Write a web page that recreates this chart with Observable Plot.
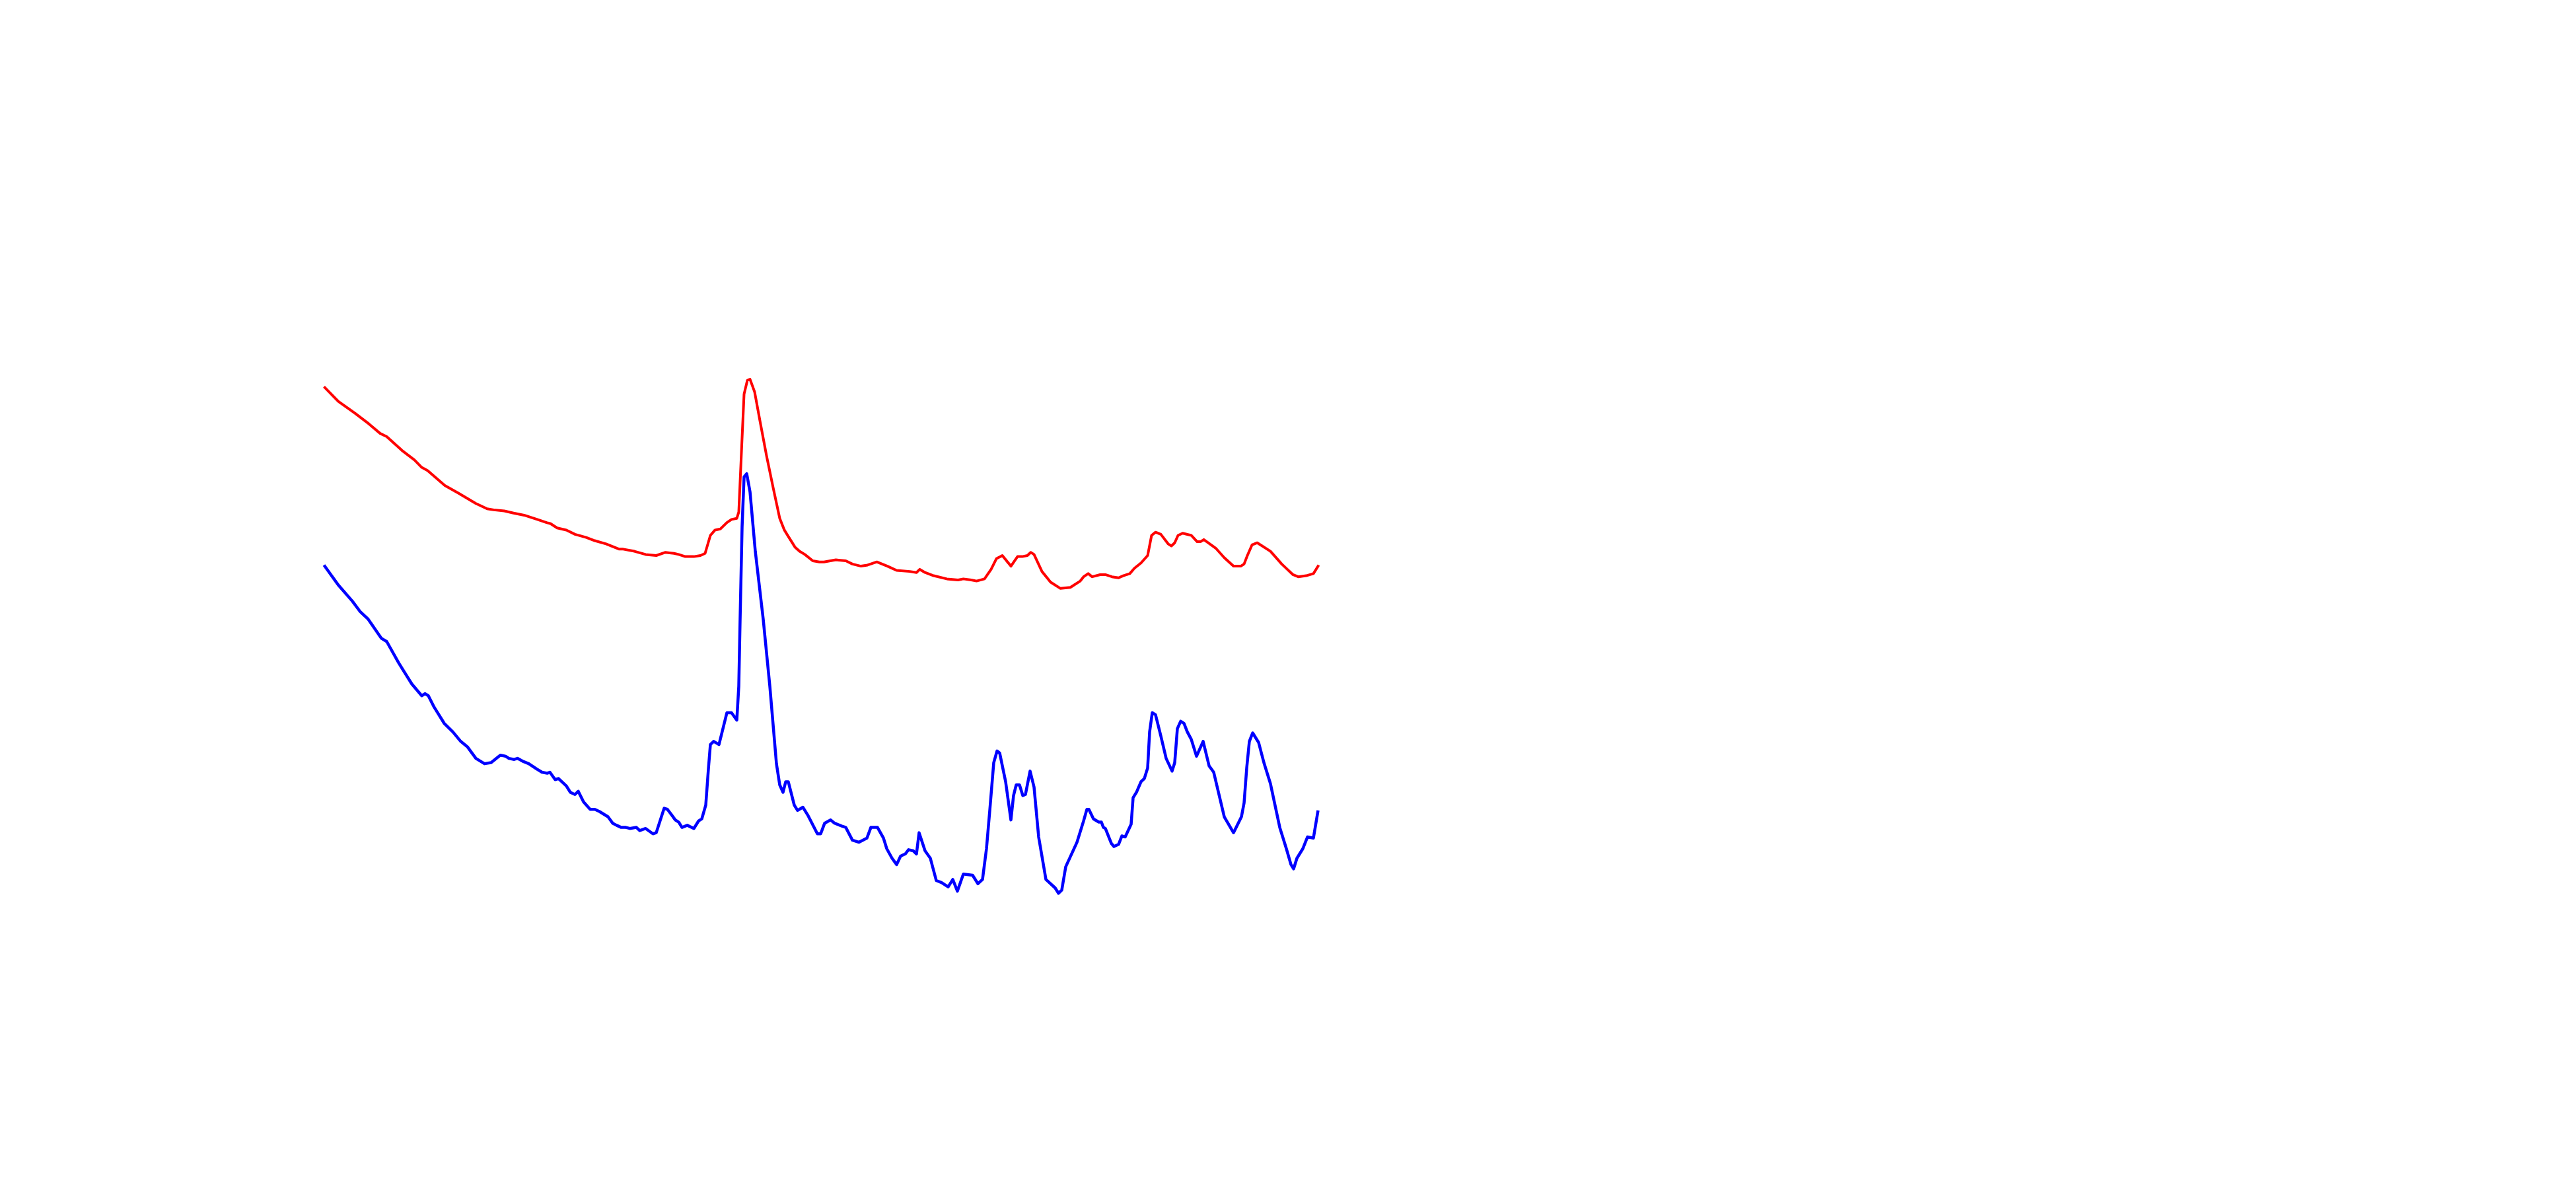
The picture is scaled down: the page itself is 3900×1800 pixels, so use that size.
<!DOCTYPE html>
<html>
<head>
<meta charset="utf-8">
<script src="https://cdn.jsdelivr.net/npm/d3@7"></script>
<script src="https://cdn.jsdelivr.net/npm/@observablehq/plot@0.6"></script>
<style>
  html, body { margin: 0; padding: 0; background: #ffffff; }
  #chart svg { display: block; }
</style>
</head>
<body>
<div id="chart"></div>
<script>
// Red series (arbitrary units)
const redX = [0,22,47,68,85,95,118,137,148,157,170,183,203,230,247,257,273,287,303,313,323,337,343,353,367,380,
  397,410,427,447,453,470,487,503,517,530,537,547,560,570,577,585,592,600,610,617,625,628,632,636,641,645,652,660,670,680,690,697,703,713,720,728,740,750,757,
  775,790,800,813,823,837,853,867,887,897,902,910,923,943,960,968,980,988,1000,1010,1018,1027,1040,1050,1057,1065,1070,1075,1087,1100,1115,1130,1145,
  1150,1157,1163,1175,1183,1193,1203,1210,1220,1227,1237,1247,1253,1259,1267,1278,1283,1288,1293,1300,1313,1322,1327,1332,1350,1363,1377,1388,1393,1398,1405,1413,1433,1450,1467,1475,1487,1498,1506];
const redY = [832,818,807,797,788,785,772,763,756,753,746,739,732,722,717,716,715,713,711,709,707,704,703,699,697,693,
  690,687,684,679,679,677,674,673,676,675,674,672,672,673,675,692,697,698,704,707,708,714,770,825,838,839,827,800,767,737,708,697,691,681,677,674,668,667,667,
  669,668,665,663,664,667,663,659,658,657,660,657,654,651,650,651,650,649,651,660,670,673,663,672,672,673,676,674,658,648,642,643,649,
  653,656,653,655,655,653,652,654,656,661,666,673,692,695,693,684,682,685,692,694,692,686,686,688,680,671,663,663,665,673,683,685,677,665,655,653,654,656,664];

// Blue series
const blueX = [0,22,43,55,67,87,95,113,133,148,153,158,167,182,195,207,217,230,243,253,267,275,280,288,293,302,310,322,330,338,342,350,355,367,373,380,
  385,393,403,410,417,430,437,443,450,457,463,473,478,487,498,503,515,520,532,537,542,550,560,567,572,578,582,585,590,598,610,617,625,628,630,633,636,640,645,653,665,675,685,690,695,699,703,712,717,725,733,747,752,758,
  767,773,785,790,800,810,822,828,838,847,852,860,867,873,880,885,892,897,901,910,918,927,935,945,952,959,968,982,990,997,1003,1008,1014,1019,1023,1032,1040,1044,1048,1053,1058,1062,1069,1075,1082,1093,1107,1112,1117,1123,1140,
  1150,1155,1158,1165,1173,1177,1180,1183,1192,1196,1203,1208,1213,1222,1225,1230,1237,1242,1247,1250,1254,1259,1267,1275,1284,1288,1292,1297,1302,1307,1313,1321,1331,1340,1347,1363,1377,1389,1393,1397,1401,1406,1415,1423,1433,1447,1457,1464,1468,1473,1482,1489,1498,1505];
const blueY = [664,645,630,620,613,595,592,572,552,541,543,541,530,515,507,498,493,482,477,478,485,484,482,481,482,479,477,472,469,468,469,462,463,456,450,448,
  451,441,434,434,432,427,421,419,417,417,416,417,414,416,411,412,435,434,424,422,417,419,416,423,425,438,472,495,498,495,525,525,518,550,613,700,747,750,733,677,613,550,477,457,450,460,460,438,433,436,428,411,411,421,
  424,421,418,417,405,403,407,417,417,407,397,388,382,390,392,396,395,392,412,395,388,367,365,361,368,357,373,372,364,368,397,433,478,489,487,460,424,447,457,457,447,448,470,455,408,368,360,355,358,380,403,
  423,434,434,425,422,422,417,416,402,399,401,409,408,420,445,450,460,463,473,507,525,523,503,482,470,478,510,517,515,507,500,484,498,475,469,427,412,427,440,473,498,506,497,478,458,417,397,382,378,388,397,408,407,433];

const red = redX.map((x, i) => ({x, y: redY[i]}));
const blue = blueX.map((x, i) => ({x, y: blueY[i]}));

const chart = Plot.plot({
  width: 3900,
  height: 1800,
  marginLeft: 490,
  marginRight: 1904,
  marginTop: 400,
  marginBottom: 400,
  style: {background: "#ffffff"},
  x: {domain: [0, 1506], axis: null},
  y: {domain: [325, 947], axis: null},
  marks: [
    Plot.line(red, {x: "x", y: "y", stroke: "red", strokeWidth: 4, strokeLinejoin: "round", strokeLinecap: "butt"}),
    Plot.line(blue, {x: "x", y: "y", stroke: "blue", strokeWidth: 4.5, strokeLinejoin: "round", strokeLinecap: "butt"})
  ]
});
document.getElementById("chart").appendChild(chart);
</script>
</body>
</html>
